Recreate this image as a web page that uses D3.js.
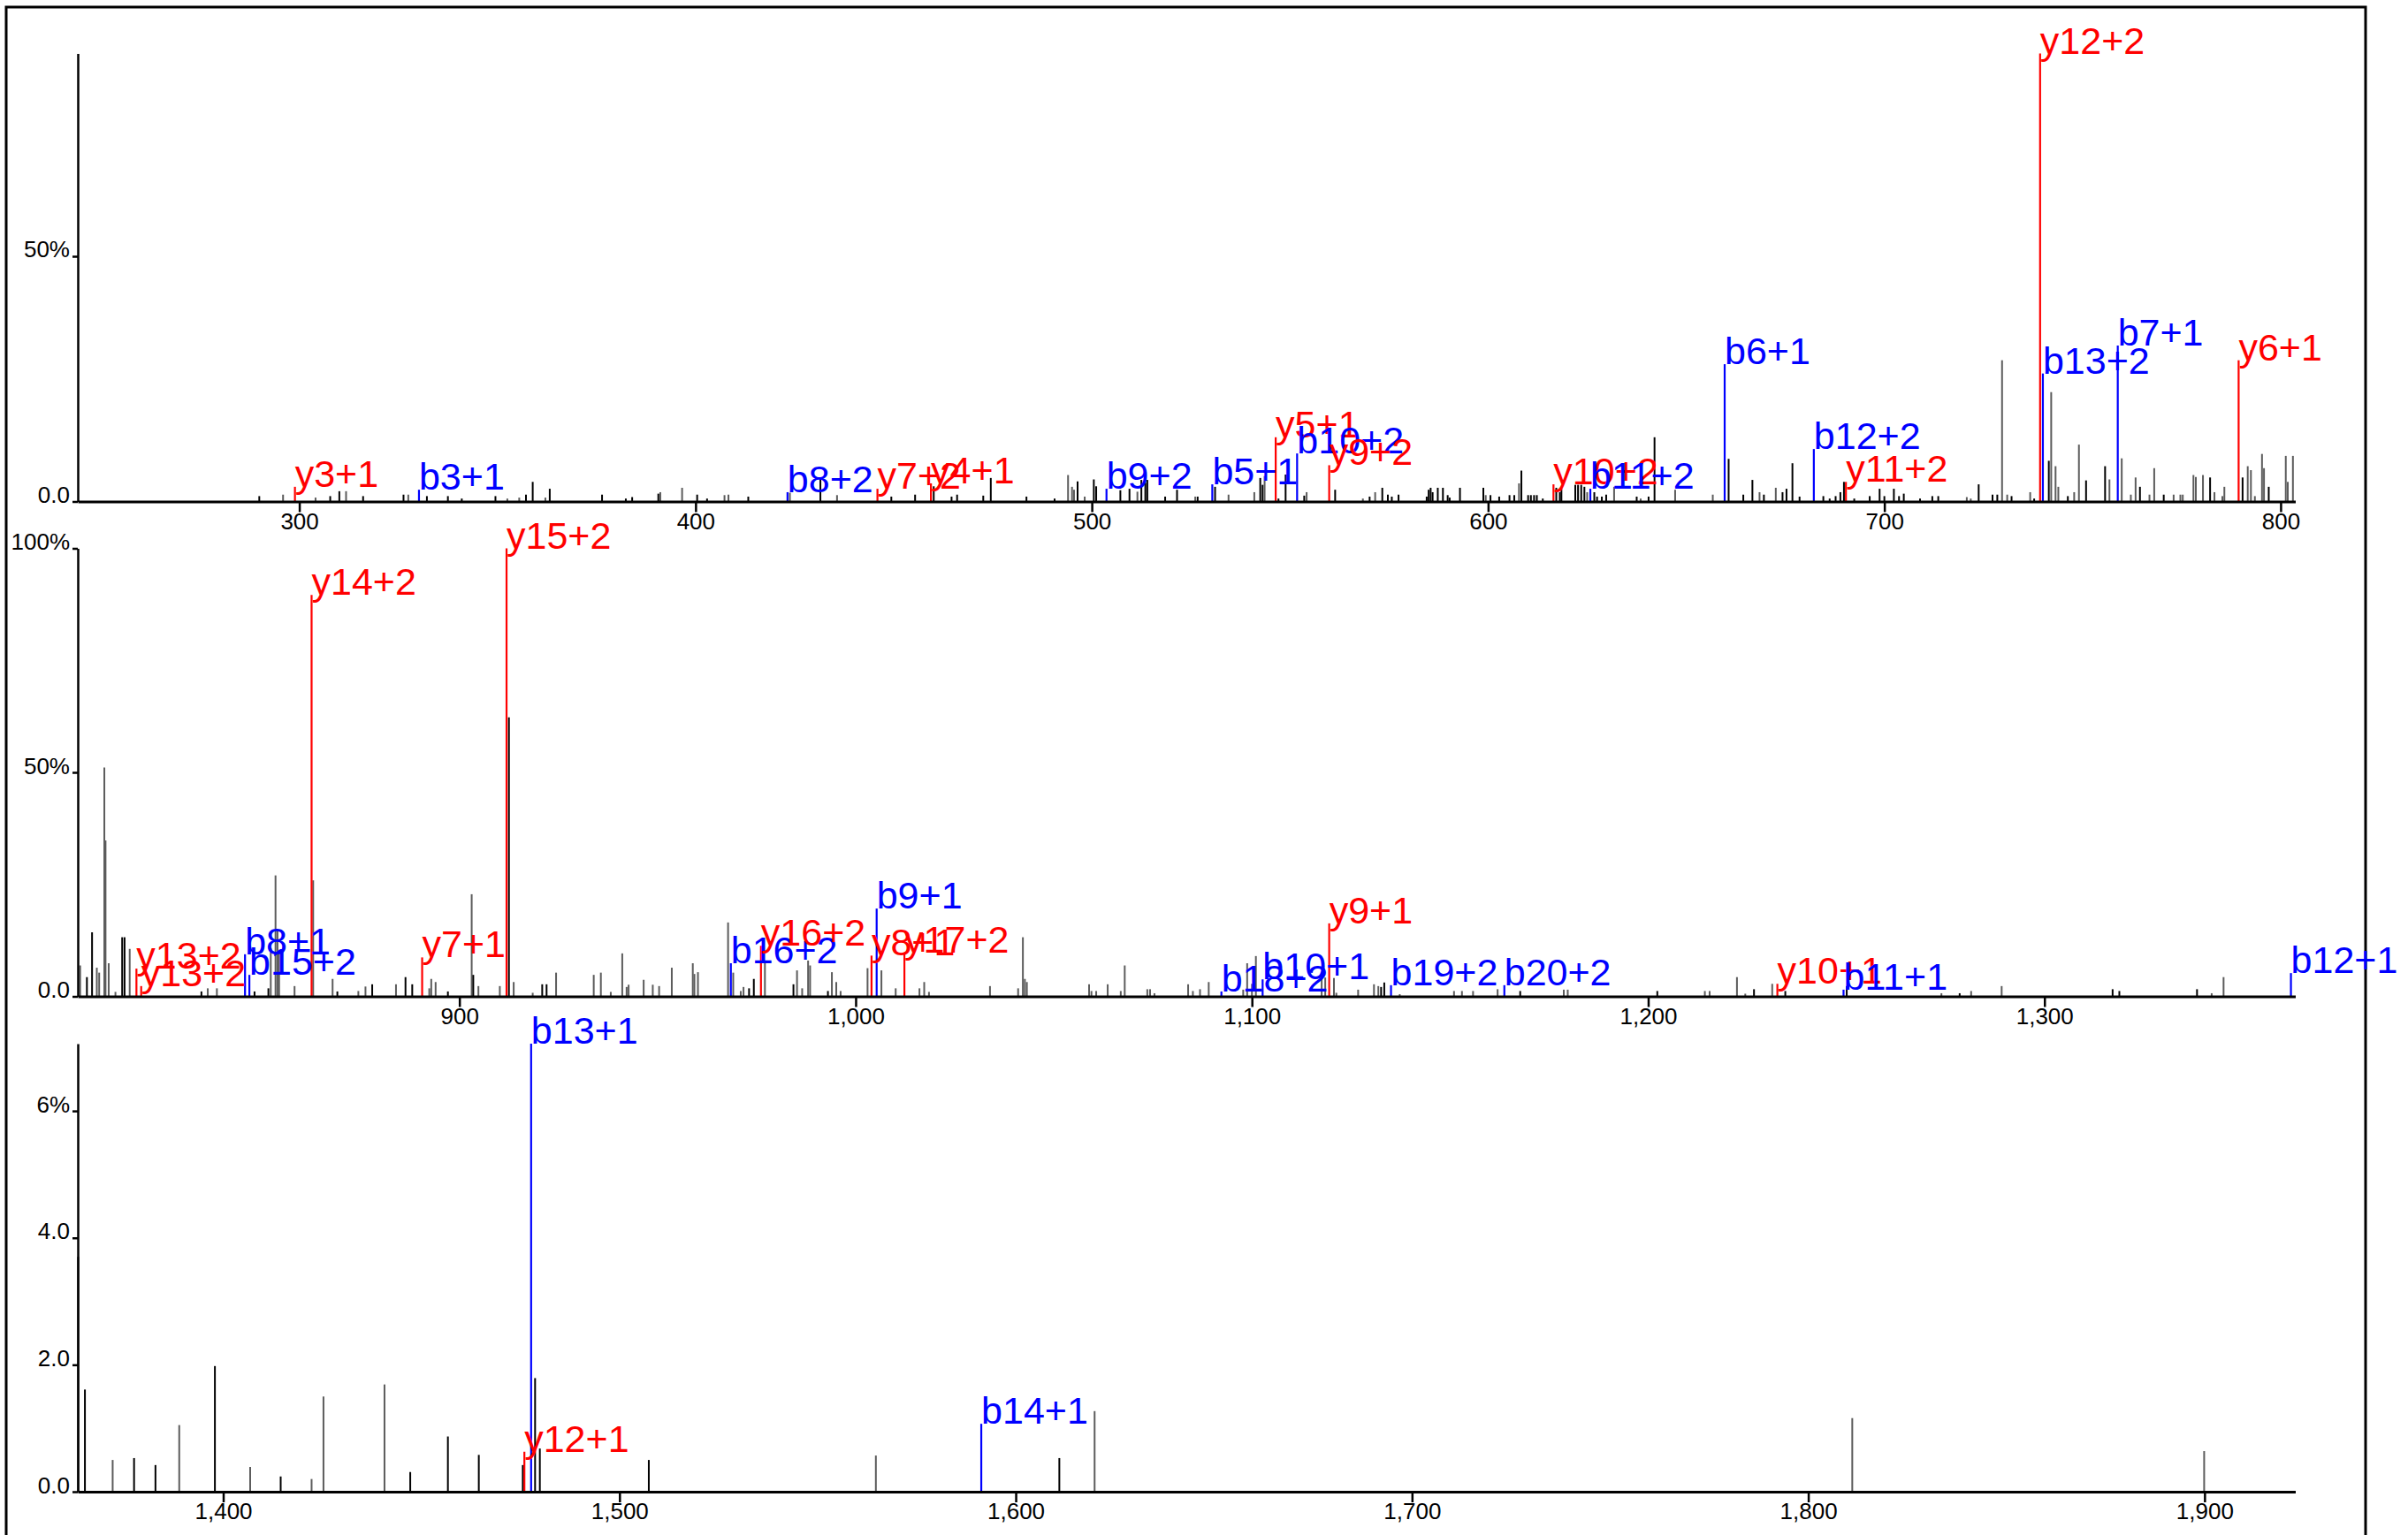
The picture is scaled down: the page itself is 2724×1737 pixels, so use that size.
<!DOCTYPE html>
<html><head><meta charset="utf-8">
<script src="https://cdn.jsdelivr.net/npm/d3@7"></script>
<style>
body{margin:0;background:#fff}
svg{display:block}
text{font-family:"Liberation Sans",Arial,Helvetica,sans-serif}
</style>
</head><body>
<svg id="chart" width="2724" height="1737"></svg>
<script>
// ---------- DATA ----------
// m/z window shown in each of the three stacked panels
const panelDomains = [[244.1, 803.7], [803.7, 1363.3], [1363.3, 1922.9]];
// y-axis maximum (% relative intensity) of each panel
const panelYMax = [91.35, 100, 7.06];
const xTickValues = [[300,400,500,600,700,800],[900,1000,1100,1200,1300],[1400,1500,1600,1700,1800,1900]];
const yTickValues = [[0,50],[0,50,100],[0,2,4,6]];
const yTickLabels = [["0.0","50%"],["0.0","50%","100%"],["0.0","2.0","4.0","6%"]];

// unannotated peaks: [m/z, intensity %, shade (0 = black, 1 = grey)]
const peaksPanel1 = [[289.9,1.1,0],[295.9,1.4,1],[304.1,0.8,1],[307.8,1.1,0],[310.1,2.1,0],[311.8,2.1,1],[316.1,1.1,0],[326.3,1.4,0],[327.5,1.4,1],[332.2,1.1,0],[337.5,1.1,0],[341.0,0.6,0],[349.5,1.1,0],[352.5,0.6,1],[355.5,0.8,1],[357.2,1.4,0],[358.9,4.0,0],[362.1,0.8,1],[363.2,2.6,0],[376.4,1.4,0],[382.4,0.6,0],[384.0,0.9,0],[390.6,1.6,0],[391.1,1.9,1],[396.6,2.8,1],[400.4,1.4,0],[402.9,0.6,0],[407.3,1.3,1],[408.3,1.4,1],[413.3,1.0,0],[423.8,1.8,1],[431.5,4.6,0],[435.7,1.3,1],[449.4,1.0,0],[455.4,1.4,0],[460.1,3.1,0],[464.6,1.0,0],[466.0,1.4,0],[472.6,1.2,0],[474.5,4.8,0],[483.5,1.0,0],[490.6,0.6,0],[494.0,5.4,1],[495.0,3.0,1],[495.5,2.4,1],[496.4,4.1,0],[498.2,1.0,1],[500.5,4.5,0],[501.1,3.1,0],[507.2,2.3,0],[509.5,2.6,0],[511.5,2.0,1],[512.5,4.4,0],[513.5,3.8,0],[514.0,4.4,0],[518.5,1.0,0],[521.5,2.4,0],[526.1,1.0,1],[526.7,1.0,0],[531.1,3.0,0],[534.5,1.4,1],[541.0,1.9,1],[542.5,4.8,0],[543.1,3.4,0],[543.6,5.2,1],[547.1,0.6,0],[548.9,5.5,0],[553.6,1.2,0],[554.2,1.9,1],[561.4,2.4,0],[568.4,0.6,1],[570.1,1.0,0],[571.5,1.9,1],[573.3,2.8,0],[574.7,1.4,0],[575.7,1.0,0],[577.4,1.4,0],[584.5,1.0,0],[585.0,2.4,0],[585.5,2.8,0],[586.0,1.9,0],[587.3,2.8,0],[588.6,2.8,0],[589.8,1.3,0],[590.3,0.8,0],[592.9,2.8,0],[598.8,2.8,0],[599.4,1.3,1],[600.6,1.3,0],[602.8,1.0,0],[605.4,1.3,0],[606.6,1.3,0],[607.8,3.7,1],[608.4,6.3,0],[610.1,1.3,0],[610.8,1.3,0],[611.6,1.3,0],[612.3,1.3,0],[613.8,0.6,0],[617.2,2.8,0],[618.1,1.9,0],[618.5,2.8,0],[622.0,3.4,0],[622.7,3.4,0],[623.5,3.4,0],[624.3,3.0,0],[625.0,1.9,1],[626.8,1.9,0],[627.5,1.0,0],[628.7,1.0,0],[629.8,1.4,0],[631.8,3.0,1],[637.5,1.0,0],[638.5,0.6,1],[640.5,1.0,0],[642.0,13.1,0],[647.2,2.4,1],[656.7,1.4,1],[660.7,8.7,0],[664.4,1.4,0],[666.7,4.4,0],[668.5,1.9,1],[669.6,1.4,0],[672.6,2.8,1],[674.3,1.9,0],[675.3,2.6,0],[676.8,7.8,0],[678.6,1.0,0],[684.6,1.1,0],[686.2,0.6,0],[687.7,1.1,0],[688.9,1.9,0],[689.8,4.0,0],[692.4,0.6,0],[696.3,1.1,0],[698.8,2.6,0],[700.0,1.1,0],[702.4,2.6,0],[703.7,1.1,0],[704.9,1.6,0],[709.0,0.6,0],[712.1,1.1,0],[713.6,1.1,0],[720.8,0.9,1],[721.8,0.6,1],[723.8,3.5,0],[727.3,1.4,0],[728.5,1.4,0],[729.7,28.8,1],[731.0,1.4,1],[732.1,1.1,0],[736.8,1.9,1],[737.8,0.6,0],[741.5,8.3,0],[742.1,22.3,1],[743.2,7.2,1],[743.9,3.0,1],[746.3,1.1,0],[747.9,1.9,1],[749.1,11.6,1],[750.9,4.3,0],[755.7,7.2,0],[756.8,4.5,1],[759.9,8.8,1],[762.2,1.4,1],[763.4,4.9,1],[764.5,3.0,0],[766.9,1.4,1],[768.1,6.8,1],[770.5,1.4,0],[773.0,1.4,1],[774.7,1.4,1],[775.3,1.4,1],[778.0,5.4,1],[778.6,5.0,1],[780.4,5.4,1],[782.2,4.9,0],[783.3,1.9,1],[785.3,1.1,1],[785.8,3.0,1],[790.4,4.9,0],[791.7,7.2,1],[792.5,6.4,1],[793.5,1.1,1],[795.3,9.7,1],[795.8,6.8,1],[797.0,3.0,0],[801.3,9.3,1],[801.8,4.0,1],[803.1,9.3,1]];

const peaksPanel2 = [[804.3,6.9,1],[806.0,4.3,0],[807.3,14.3,0],[808.5,6.4,1],[809.1,5.3,1],[810.4,51.1,1],[810.7,34.8,1],[811.5,7.4,1],[813.2,1.0,1],[814.9,13.2,0],[815.5,13.2,0],[816.8,10.6,1],[834.9,1.1,0],[836.5,1.8,1],[838.8,1.8,1],[848.3,1.1,0],[851.8,1.8,0],[852.4,10.8,1],[853.6,27.0,1],[854.1,15.0,1],[854.5,10.4,1],[858.4,2.3,1],[863.1,25.9,1],[868.0,3.9,1],[869.2,1.1,0],[874.5,1.2,1],[876.3,2.2,1],[878.0,2.7,0],[884.0,2.7,1],[886.4,4.3,0],[888.1,2.7,0],[892.4,1.8,1],[892.9,3.9,1],[894.0,3.2,1],[897.1,1.1,0],[903.1,22.8,1],[903.5,4.8,0],[904.8,2.3,1],[910.2,2.3,1],[912.5,62.3,0],[913.7,3.2,1],[918.5,0.8,1],[920.9,2.7,0],[922.0,2.7,0],[924.4,5.3,1],[933.9,4.8,1],[935.7,5.3,1],[938.2,1.0,1],[941.1,9.6,1],[942.2,2.1,1],[942.7,2.6,1],[946.5,3.7,1],[948.8,2.6,1],[950.4,2.3,1],[953.6,6.4,1],[958.9,7.4,1],[959.3,5.0,1],[960.2,5.4,1],[967.8,16.5,1],[969.1,5.3,1],[971.0,1.2,1],[971.7,2.1,1],[973.1,1.8,0],[974.3,3.9,0],[977.1,7.6,1],[984.3,2.7,0],[985.2,5.8,1],[986.5,1.8,1],[988.0,8.0,1],[988.5,6.9,1],[993.0,1.2,0],[994.0,5.4,1],[995.1,3.2,1],[996.2,1.2,1],[1003.0,6.3,1],[1006.5,5.8,1],[1010.1,1.8,1],[1016.1,1.8,1],[1017.3,3.2,1],[1018.5,1.0,1],[1033.9,2.3,1],[1041.0,1.8,1],[1042.2,13.2,1],[1042.7,3.9,1],[1043.2,3.2,1],[1058.9,2.7,1],[1059.5,1.2,1],[1060.7,1.2,1],[1063.6,2.7,1],[1066.9,1.2,1],[1067.9,6.9,1],[1073.6,1.6,1],[1074.3,1.6,1],[1075.4,0.7,1],[1083.9,2.7,1],[1085.1,1.2,1],[1086.9,1.6,1],[1089.1,3.2,1],[1097.8,1.5,1],[1098.8,7.4,1],[1100.0,2.8,1],[1101.0,9.0,1],[1117.6,4.1,1],[1118.5,4.2,1],[1120.7,4.1,1],[1121.3,0.8,1],[1126.8,1.5,1],[1130.8,2.7,1],[1131.9,2.3,1],[1132.6,2.1,0],[1133.4,3.1,0],[1137.3,0.5,1],[1151.0,1.2,1],[1153.0,1.2,1],[1155.8,1.2,1],[1162.0,1.6,1],[1167.7,1.2,0],[1178.7,1.5,1],[1179.7,1.5,1],[1202.3,1.2,0],[1214.3,1.2,1],[1215.5,1.2,1],[1222.4,4.3,1],[1224.5,0.6,1],[1226.7,1.6,0],[1231.3,2.8,1],[1234.6,1.2,0],[1250.1,2.3,0],[1274.0,0.7,1],[1278.6,0.7,0],[1281.5,1.2,1],[1289.2,2.3,1],[1317.2,1.6,0],[1318.9,1.2,0],[1338.5,1.6,0],[1342.2,0.7,1],[1345.2,4.3,1]];

const peaksPanel3 = [[1363.4,3.70,0],[1365.1,1.61,0],[1372.1,0.50,1],[1377.5,0.53,0],[1382.9,0.42,0],[1388.9,1.05,1],[1397.9,1.98,0],[1406.8,0.39,1],[1414.5,0.24,0],[1422.3,0.20,1],[1425.3,1.50,1],[1440.7,1.69,1],[1447.2,0.31,0],[1456.7,0.87,0],[1464.5,0.58,0],[1475.6,0.42,0],[1478.7,1.79,0],[1479.9,0.68,0],[1507.4,0.50,0],[1564.7,0.57,1],[1611.0,0.53,0],[1619.9,1.27,1],[1811.1,1.16,1],[1899.9,0.64,1]];

// annotated fragment ions
const ionLabels = ["y3+1","b3+1","b8+2","y7+2","y4+1","b9+2","b5+1","y5+1","b10+2","y9+2","y10+2","b11+2","b6+1","b12+2","y11+2","y12+2","b13+2","b7+1","y6+1","y13+2","y13+2","b8+1","b15+2","y14+2","y7+1","y15+2","b16+2","y16+2","y8+1","b9+1","y17+2","b18+2","b10+1","y9+1","b19+2","b20+2","y10+1","b11+1","b12+1","y12+1","b13+1","b14+1"];
const ionMz = [298.9,330.2,423.2,445.9,459.4,503.7,530.4,546.4,551.8,559.9,616.5,625.8,659.7,682.2,690.3,739.3,740.0,758.9,789.4,818.5,819.7,845.9,847.0,862.7,890.6,911.9,968.5,976.1,1004.0,1005.3,1012.3,1092.3,1102.7,1119.5,1135.1,1163.7,1232.6,1249.3,1362.2,1476.0,1477.7,1591.3];
const ionIntensity = [3.0,2.4,1.9,2.6,3.7,2.6,3.5,13.1,9.8,7.4,3.5,2.6,28.0,10.7,4.0,91.35,26.1,31.8,28.8,6.2,2.3,9.4,4.8,89.6,8.7,100,7.4,11.3,9.1,19.6,9.8,1.1,3.8,16.3,2.5,2.5,2.8,1.5,5.2,0.63,7.06,1.07];

// ---------- DRAW ----------
const svg = d3.select("#chart");
const FONT = '"Liberation Sans",Arial,Helvetica,sans-serif';
const plotLeft = 88, plotRight = 2596.5;
const panelBaselines = [567.5, 1127.5, 1688];
const panelHeight = 507;
const peakSets = [peaksPanel1, peaksPanel2, peaksPanel3];
const shadeColor = ["#000000", "#5c5c5c"];
const ionColor = t => t === "y" ? "#ff0000" : "#0000ff";

// outer frame
svg.append("rect").attr("x", 7).attr("y", 8).attr("width", 2669).attr("height", 1745)
  .attr("fill", "none").attr("stroke", "#000").attr("stroke-width", 3);

const ions = ionLabels.map((l, i) => ({label: l, mz: ionMz[i], inten: ionIntensity[i], type: l[0]}));

panelDomains.forEach((dom, i) => {
  const base = panelBaselines[i];
  const x = d3.scaleLinear().domain(dom).range([plotLeft, plotRight]);
  const y = d3.scaleLinear().domain([0, panelYMax[i]]).range([base, base - panelHeight]);
  const g = svg.append("g");

  // unannotated peaks
  g.append("g").selectAll("line").data(peakSets[i]).join("line")
    .attr("x1", d => x(d[0])).attr("x2", d => x(d[0]))
    .attr("y1", y(0)).attr("y2", d => y(d[1]))
    .attr("stroke", d => shadeColor[d[2]]).attr("stroke-width", 2);

  const pIons = ions.filter(d => d.mz >= dom[0] && d.mz < dom[1]);
  g.append("g").selectAll("line").data(pIons).join("line")
    .attr("x1", d => x(d.mz)).attr("x2", d => x(d.mz))
    .attr("y1", y(0)).attr("y2", d => y(d.inten))
    .attr("stroke", d => ionColor(d.type)).attr("stroke-width", 2.2);

  // axes
  const xa = d3.axisBottom(x).tickValues(xTickValues[i]).tickFormat(d3.format(","))
    .tickSize(12).tickSizeOuter(0);
  g.append("g").attr("transform", `translate(0,${base})`).call(xa)
    .attr("font-family", FONT)
    .call(s => s.select(".domain").attr("stroke-width", 3))
    .call(s => s.selectAll(".tick line").attr("stroke-width", 2.5))
    .call(s => s.selectAll(".tick text").attr("font-size", 26).attr("y", 31).attr("dy", 0).attr("fill", "#000"));

  const labs = yTickLabels[i];
  const ya = d3.axisLeft(y).tickValues(yTickValues[i]).tickFormat((d, j) => labs[j])
    .tickSize(6).tickSizeOuter(0);
  g.append("g").attr("transform", `translate(${plotLeft},0)`).call(ya)
    .attr("font-family", FONT)
    .call(s => s.select(".domain").attr("stroke-width", 2.5))
    .call(s => s.selectAll(".tick line").attr("stroke-width", 2.5))
    .call(s => s.selectAll(".tick text").attr("font-size", 26).attr("x", -9).attr("dy", 1).attr("fill", "#000"));

  // ion labels
  g.append("g").selectAll("text").data(pIons).join("text")
    .attr("x", d => x(d.mz)).attr("y", d => y(d.inten))
    .attr("font-size", 43).attr("font-family", FONT)
    .attr("fill", d => ionColor(d.type))
    .text(d => d.label);
});
</script>
</body></html>
